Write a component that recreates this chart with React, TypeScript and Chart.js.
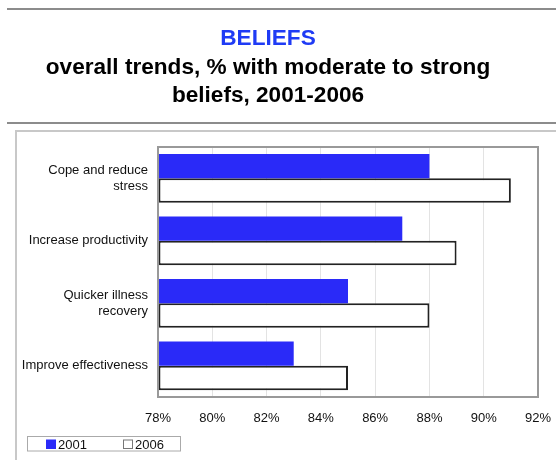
import React, { useEffect, useRef } from "react";
import { Chart, registerables } from "chart.js";

Chart.register(...registerables);

const categories: (string | string[])[] = [
  ["Cope and reduce", "stress"],
  "Increase productivity",
  ["Quicker illness", "recovery"],
  "Improve effectiveness",
];
const values2001 = [88, 87, 85, 83];
const values2006 = [91, 89, 88, 85];
const seriesNames = ["2001", "2006"];
const titleMain = "BELIEFS";
const titleLines = ["overall trends, % with moderate to strong", "beliefs, 2001-2006"];
const axisMin = 78;
const axisMax = 92;
const axisStep = 2;

const FONT = "'Liberation Sans', Arial, Helvetica, sans-serif";
const BLUE = "#2a2af8";

const framePlugin = {
  id: "framePlugin",
  beforeDraw(chart: any) {
    const ctx = chart.ctx;
    ctx.save();
    ctx.fillStyle = "#ffffff";
    ctx.fillRect(0, 0, chart.width, chart.height);
    // header rules
    ctx.fillStyle = "#8c8c8c";
    ctx.fillRect(7, 8, chart.width - 7, 2);
    ctx.fillRect(7, 122, chart.width - 7, 2);
    // outer frame
    ctx.fillStyle = "#c8c8c8";
    ctx.fillRect(15, 130, chart.width - 15, 2);
    ctx.fillRect(15, 130, 2, chart.height - 130);
    // titles
    ctx.textAlign = "center";
    ctx.textBaseline = "alphabetic";
    ctx.font = `bold 22.6px ${FONT}`;
    ctx.fillStyle = "#1f3bf5";
    ctx.fillText(titleMain, 268, 45);
    ctx.fillStyle = "#000000";
    ctx.fillText(titleLines[0], 268, 74);
    ctx.fillText(titleLines[1], 268, 102);
    ctx.restore();
  },
  afterDatasetsDraw(chart: any) {
    const ctx = chart.ctx;
    const a = chart.chartArea;
    ctx.save();
    ctx.strokeStyle = "#999999";
    ctx.lineWidth = 2;
    ctx.strokeRect(a.left, a.top, a.right - a.left, a.bottom - a.top);
    ctx.restore();
  },
  afterDraw(chart: any) {
    const ctx = chart.ctx;
    ctx.save();
    // legend box
    ctx.strokeStyle = "#aaaaaa";
    ctx.lineWidth = 1;
    ctx.strokeRect(27.5, 436.5, 153, 14.5);
    ctx.font = `13px ${FONT}`;
    ctx.textAlign = "left";
    ctx.textBaseline = "alphabetic";
    ctx.fillStyle = BLUE;
    ctx.fillRect(46, 439.5, 10, 9.5);
    ctx.fillStyle = "#111111";
    ctx.fillText(seriesNames[0], 58, 448.5);
    ctx.fillStyle = "#ffffff";
    ctx.fillRect(123, 439.5, 10, 9.5);
    ctx.strokeStyle = "#777777";
    ctx.strokeRect(123.5, 440, 9, 8.5);
    ctx.fillStyle = "#111111";
    ctx.fillText(seriesNames[1], 135, 448.5);
    ctx.restore();
  },
};

export default function App() {
  const ref = useRef<HTMLCanvasElement>(null);
  useEffect(() => {
    if (!ref.current) return;
    const chart = new Chart(ref.current, {
      type: "bar",
      data: {
        labels: categories,
        datasets: [
          {
            label: seriesNames[0],
            data: values2001,
            backgroundColor: BLUE,
            borderWidth: 0,
            base: axisMin,
          } as any,
          {
            label: seriesNames[1],
            data: values2006,
            backgroundColor: "#ffffff",
            borderColor: "#222222",
            borderWidth: 2,
            borderSkipped: false,
            base: axisMin,
          } as any,
        ],
      },
      options: {
        indexAxis: "y",
        responsive: false,
        animation: false,
        devicePixelRatio: 1,
        layout: { padding: { top: 147, right: 18, left: 0, bottom: 0 } },
        datasets: { bar: { categoryPercentage: 0.78, barPercentage: 1 } },
        plugins: {
          legend: { display: false },
          title: { display: false },
          tooltip: { enabled: false },
        },
        scales: {
          x: {
            type: "linear",
            min: axisMin,
            max: axisMax,
            afterFit: (s: any) => {
              s.height = 63;
              s.paddingLeft = 0;
              s.paddingRight = 0;
            },
            ticks: {
              stepSize: axisStep,
              callback: (v: any) => `${v}%`,
              font: { family: FONT, size: 13 },
              color: "#111111",
              padding: 14,
            },
            grid: { color: "#e3e3e3", drawTicks: false, lineWidth: 1 },
            border: { display: false },
          },
          y: {
            type: "category",
            offset: true,
            afterFit: (s: any) => {
              s.width = 158;
              s.paddingTop = 0;
              s.paddingBottom = 0;
            },
            ticks: {
              font: { family: FONT, size: 13, lineHeight: 1.25 },
              color: "#111111",
              padding: 10,
              autoSkip: false,
            },
            grid: { display: false, drawTicks: false },
            border: { display: false },
          },
        },
      },
      plugins: [framePlugin],
    });
    return () => chart.destroy();
  }, []);
  return (
    <div style={{ position: "fixed", left: 0, top: 0, width: 556, height: 460, background: "#fff" }}>
      <canvas ref={ref} width={556} height={460} style={{ display: "block", width: 556, height: 460 }} />
    </div>
  );
}
